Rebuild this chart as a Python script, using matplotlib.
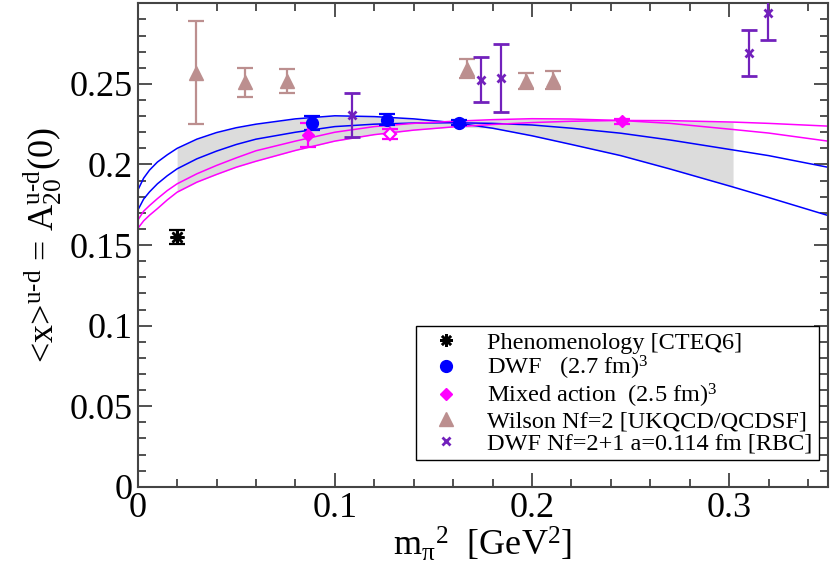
import numpy as np
import matplotlib
matplotlib.use("Agg")
import matplotlib.pyplot as plt
from matplotlib.lines import Line2D
from matplotlib.ticker import MultipleLocator, FuncFormatter

plt.rcParams['font.family'] = ['Liberation Serif', 'DejaVu Serif']
plt.rcParams['mathtext.fontset'] = 'custom'
plt.rcParams['mathtext.rm'] = 'Liberation Serif'
plt.rcParams['mathtext.it'] = 'Liberation Serif:italic'

# data points (m_pi^2, <x>_{u-d}, error)
pheno_x = [0.0198]
pheno_y = [0.155]
pheno_err = [0.0045]

dwf_x = [0.0883, 0.1264, 0.1628]
dwf_y = [0.2258, 0.2277, 0.2258]
dwf_err = [0.0044, 0.0034, 0.0015]

mixed_x = [0.0863, 0.2457]
mixed_y = [0.2184, 0.2268]
mixed_err = [0.0076, 0.0015]

mixed_open_x = [0.128]
mixed_open_y = [0.219]
mixed_open_err = [0.0033]

wilson_x = [0.0296, 0.0545, 0.0756, 0.167, 0.197, 0.2107]
wilson_y = [0.257, 0.251, 0.252, 0.2595, 0.2516, 0.2525]
wilson_err = [0.032, 0.009, 0.0075, 0.006, 0.005, 0.0056]

rbc_x = [0.1086, 0.1741, 0.1843, 0.310, 0.3196]
rbc_y = [0.2308, 0.2525, 0.2537, 0.2692, 0.294]
rbc_err = [0.0137, 0.014, 0.021, 0.0143, 0.017]

# chiral fit curves
fit_x = [0, 0.003, 0.006, 0.01, 0.015, 0.02, 0.03, 0.04, 0.05, 0.06, 0.08, 0.10,
         0.12, 0.14, 0.16, 0.18, 0.20, 0.22, 0.245, 0.27, 0.302, 0.32, 0.35]
dwf_fit_a = [0.1839, 0.1915, 0.1965, 0.2015, 0.2060, 0.2100, 0.2157, 0.2198, 0.2228, 0.2250,
             0.2283, 0.2302, 0.2297, 0.2283, 0.2260, 0.2225, 0.2178, 0.2124, 0.2055, 0.1972,
             0.1860, 0.1795, 0.1684]
dwf_fit_b = [0.1715, 0.1785, 0.1830, 0.1880, 0.1930, 0.1973, 0.2035, 0.2083, 0.2124, 0.2157,
             0.2200, 0.2235, 0.2250, 0.2257, 0.2259, 0.2255, 0.2245, 0.2225, 0.2194, 0.2152,
             0.2090, 0.2055, 0.1983]
mixed_fit_a = [0.1653, 0.1710, 0.1745, 0.1788, 0.1838, 0.1880, 0.1942, 0.1994, 0.2041, 0.2085,
               0.2145, 0.2200, 0.2235, 0.2255, 0.2268, 0.2278, 0.2284, 0.2282, 0.2273, 0.2255,
               0.2217, 0.2195, 0.2145]
mixed_fit_b = [0.1602, 0.1650, 0.1685, 0.1726, 0.1780, 0.1828, 0.1890, 0.1938, 0.1983, 0.2020,
               0.2087, 0.2145, 0.2185, 0.2213, 0.2233, 0.2248, 0.2260, 0.2268, 0.2273, 0.2272,
               0.2263, 0.2255, 0.2238]
band_range = (0.02, 0.302)

legend_labels = ['Phenomenology [CTEQ6]',
                 r'DWF   (2.7 fm)$^{3}$',
                 r'Mixed action  (2.5 fm)$^{3}$',
                 'Wilson Nf=2 [UKQCD/QCDSF]',
                 'DWF Nf=2+1 a=0.114 fm [RBC]']

blue = '#0000FF'
magenta = '#FF00FF'
brown = '#BC8F8F'
indigo = '#7221BC'

fig = plt.figure(figsize=(8.3, 5.87), dpi=100)
ax = fig.add_axes([137.7 / 830, (587 - 486.8) / 587, 690 / 830, 483.5 / 587])

fx = np.array(fit_x)
curves = np.array([dwf_fit_a, dwf_fit_b, mixed_fit_a, mixed_fit_b])
inside = (fx >= band_range[0]) & (fx <= band_range[1])
ax.fill_between(fx, curves.max(axis=0), curves.min(axis=0), where=inside,
                color='#DCDCDC', lw=0, zorder=1)

for c, col in zip(curves, [blue, blue, magenta, magenta]):
    ax.plot(fx, c, color=col, lw=1.1, zorder=2)

eb = dict(capsize=5.5, elinewidth=1.6, capthick=1.6, ls='none', zorder=4)
ax.errorbar(wilson_x, wilson_y, yerr=wilson_err, fmt='^', color=brown, ms=10, **eb)
ax.errorbar(rbc_x, rbc_y, yerr=rbc_err, fmt='x', color=indigo, ms=6, mew=2, **eb)
ax.errorbar(dwf_x, dwf_y, yerr=dwf_err, fmt='o', color=blue, ms=8.5, **eb)
ax.errorbar(mixed_x, mixed_y, yerr=mixed_err, fmt='D', color=magenta, ms=6.5, **eb)
ax.errorbar(mixed_open_x, mixed_open_y, yerr=mixed_open_err, fmt='D', color=magenta,
            mfc='white', mew=1.6, ms=6.5, **eb)
ax.errorbar(pheno_x, pheno_y, yerr=pheno_err, fmt='none', color='black', **eb)
ax.plot(pheno_x, pheno_y, ls='none', marker=(8, 2, 0), color='black', ms=10, mew=1.8, zorder=5)

ax.set_xlim(0, 0.35)
ax.set_ylim(0, 0.3)
ax.set_yticks([0, 0.05, 0.1, 0.15, 0.2, 0.25])
ax.xaxis.set_major_locator(MultipleLocator(0.1))
ax.xaxis.set_minor_locator(MultipleLocator(0.02))
ax.yaxis.set_minor_locator(MultipleLocator(0.01))
ax.xaxis.set_major_formatter(FuncFormatter(lambda v, p: '%g' % round(v, 3)))
ax.yaxis.set_major_formatter(FuncFormatter(lambda v, p: '%g' % round(v, 3)))
ax.tick_params(which='both', direction='in', top=True, right=True, labelsize=26,
               color='#333333', width=1.2)
ax.tick_params(which='major', length=10)
ax.tick_params(axis='x', which='major', pad=4)
ax.tick_params(which='minor', length=5.5)
for s in ax.spines.values():
    s.set_linewidth(1.5)
    s.set_color('#444444')

ax.set_xlabel(r'm$_{\mathrm{π}}{}^{2}$  [GeV$^{2}$]', fontsize=26, labelpad=0)
ax.set_ylabel(r'<x>$^{\mathrm{u}\text{-}\mathrm{d}}$ = A$_{20}^{\mathrm{u}\text{-}\mathrm{d}}$(0)',
              fontsize=26, labelpad=4)

handles = [
    Line2D([], [], ls='none', marker=(8, 2, 0), color='black', ms=9, mew=1.8),
    Line2D([], [], ls='none', marker='o', color=blue, ms=8.5),
    Line2D([], [], ls='none', marker='D', color=magenta, ms=6.5),
    Line2D([], [], ls='none', marker='^', color=brown, ms=10),
    Line2D([], [], ls='none', marker='x', color=indigo, ms=6, mew=2),
]
leg = ax.legend(handles, legend_labels, loc='upper right',
                bbox_to_anchor=(0.987, 0.333), borderaxespad=0, fontsize=17.5,
                frameon=True, fancybox=False, framealpha=1, edgecolor='black',
                labelspacing=0.0, handlelength=2, handletextpad=0.7, borderpad=0.25)
leg.get_frame().set_linewidth(1.0)

fig.savefig('out.png', dpi=100)
